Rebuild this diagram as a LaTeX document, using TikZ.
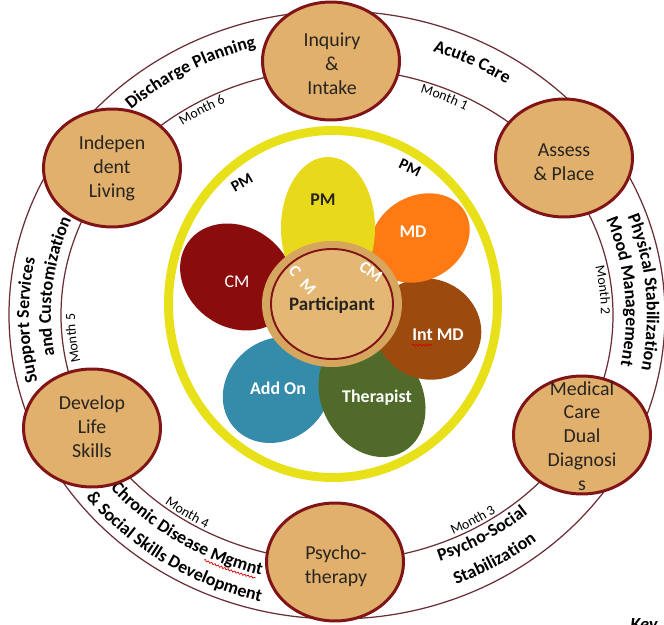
\documentclass[tikz,border=0pt]{standalone}
\usepackage{fontspec}
\setmainfont{Carlito}
\usetikzlibrary{shapes.geometric, decorations.text, decorations.pathmorphing}

\definecolor{stagefill}{RGB}{224,176,108}
\definecolor{stageline}{RGB}{128,20,22}
\definecolor{ringline}{RGB}{105,45,52}
\definecolor{halo}{RGB}{232,224,24}
\definecolor{pmyellow}{RGB}{232,218,26}
\definecolor{mdorange}{RGB}{255,122,18}
\definecolor{intbrown}{RGB}{156,74,14}
\definecolor{therapgreen}{RGB}{80,106,42}
\definecolor{addblue}{RGB}{52,140,170}
\definecolor{cmred}{RGB}{138,12,12}
\definecolor{partouter}{RGB}{214,166,94}
\definecolor{partinner}{RGB}{228,184,116}
\definecolor{darktext}{RGB}{40,36,32}

\newcommand\bandfont{\fontsize{10.2}{12}\selectfont\bfseries}
\newcommand\monthfont{\fontsize{7.9}{9}\selectfont}

\tikzset{
	stage/.style = {ellipse, draw = stageline, line width = 1.7pt, fill = stagefill, minimum width = 2.74cm, minimum height = 2.36cm},
	stagelabel/.style = {align = center, text = darktext, font = \fontsize{11.3}{13.6}\selectfont},
	ring/.style = {draw = ringline, line width = 0.7pt},
	band/.style = {decorate, decoration = {text along path, text align = center, text = {|\bandfont|#1}}},
	month/.style = {decorate, decoration = {text along path, text align = center, text = {|\monthfont|#1}}},
	petallabel/.style = {inner sep = 0pt, text = white, font = \fontsize{10.2}{12}\selectfont\bfseries},
	smallcm/.style = {petallabel, font = \fontsize{9.6}{11}\selectfont\bfseries},
	squiggle/.style = {draw = red!85!black, line width = 0.4pt, decorate, decoration = {snake, amplitude = 0.5pt, segment length = 2pt}}
}

\begin{document}
\begin{tikzpicture}[x = 0.02cm, y = 0.02cm]
	\useasboundingbox ( 0, 0 ) rectangle ( 664, -625 );
	\coordinate (hub) at ( 337, -315 );
	\draw [ring] (hub) ellipse [x radius = 328, y radius = 304];
	\draw [ring] (hub) ellipse [x radius = 276, y radius = 246];

	\path [band = {Discharge Planning}] ([shift = {( 154.5 : 305 and 278 )}]hub) arc [start angle = 154.5, end angle = 84.5, x radius = 305, y radius = 278];
	\path [band = {Acute Care}] ([shift = {( 93.5 : 305 and 278 )}]hub) arc [start angle = 93.5, end angle = 33.5, x radius = 305, y radius = 278];
	\path [band = {Physical Stabilization}] ([shift = {( 39.5 : 310 and 284 )}]hub) arc [start angle = 39.5, end angle = -30.5, x radius = 310, y radius = 284];
	\path [band = {Mood Management}] ([shift = {( 40 : 289 and 260 )}]hub) arc [start angle = 40, end angle = -30, x radius = 289, y radius = 260];
	\path [band = {Psycho-Social}] ([shift = {( -93.5 : 292 and 263 )}]hub) arc [start angle = -93.5, end angle = -23.5, x radius = 292, y radius = 263];
	\path [band = {Stabilization}] ([shift = {( -93.8 : 317 and 291 )}]hub) arc [start angle = -93.8, end angle = -23.8, x radius = 317, y radius = 291];
	\path [band = {Chronic Disease Mgmnt}] ([shift = {( 196.9 : 297 and 269 )}]hub) arc [start angle = 196.9, end angle = 276.9, x radius = 297, y radius = 269];
	\path [band = {{\&} Social Skills Development}] ([shift = {( 194.5 : 320 and 295 )}]hub) arc [start angle = 194.5, end angle = 278.5, x radius = 320, y radius = 295];
	\path [band = {Support Services}] ([shift = {( 216 : 308 and 281 )}]hub) arc [start angle = 216, end angle = 146, x radius = 308, y radius = 281];
	\path [band = {and Customization}] ([shift = {( 208.8 : 286 and 257 )}]hub) arc [start angle = 208.8, end angle = 138.8, x radius = 286, y radius = 257];
	\draw [squiggle] ([shift = {( 243.8 : 301 and 273 )}]hub) arc [start angle = 243.8, end angle = 254.3, x radius = 301, y radius = 273];

	\path [month = {Month 6}] ([shift = {( 140.7 : 264 and 234 )}]hub) arc [start angle = 140.7, end angle = 100.7, x radius = 264, y radius = 234];
	\path [month = {Month 1}] ([shift = {( 86 : 264 and 234 )}]hub) arc [start angle = 86, end angle = 46, x radius = 264, y radius = 234];
	\path [month = {Month 2}] ([shift = {( 25.9 : 264 and 234 )}]hub) arc [start angle = 25.9, end angle = -14.1, x radius = 264, y radius = 234];
	\path [month = {Month 3}] ([shift = {( -79.3 : 273 and 243 )}]hub) arc [start angle = -79.3, end angle = -39.3, x radius = 273, y radius = 243];
	\path [month = {Month 4}] ([shift = {( 215.8 : 273 and 243 )}]hub) arc [start angle = 215.8, end angle = 255.8, x radius = 273, y radius = 243];
	\path [month = {Month 5}] ([shift = {( 205.6 : 262 and 232 )}]hub) arc [start angle = 205.6, end angle = 165.6, x radius = 262, y radius = 232];

	\node [stage] (inq) at ( 331, -61 ) {};
	\node [stage] (ass) at ( 564, -158 ) {};
	\node [stage] (med) at ( 582, -435 ) {};
	\node [stage] (psy) at ( 335, -562 ) {};
	\node [stage] (dev) at ( 92, -428 ) {};
	\node [stage] (ind) at ( 112, -168 ) {};
	\node [stagelabel] (inqtext) at ( 332, -64 ) {Inquiry\\\&\\Intake};
	\node [stagelabel] (asstext) at ( 564, -162 ) {Assess\\\& Place};
	\node [stagelabel] (medtext) at ( 582, -436 ) {Medical\\Care\\Dual\\Diagnosi\\s};
	\node [stagelabel] (psytext) at ( 336, -566 ) {Psycho-\\therapy};
	\node [stagelabel] (devtext) at ( 92, -427 ) {Develop\\Life\\Skills};
	\node [stagelabel] (indtext) at ( 112, -168 ) {Indepen\\dent\\Living};

	\draw [halo, line width = 5.1pt] ( 333, -304 ) ellipse [x radius = 164.5, y radius = 173.5];

	\fill [addblue, rotate around = {40 : ( 277, -390 )}] ( 277, -390 ) ellipse [x radius = 57, y radius = 50];
	\fill [therapgreen, rotate around = {-60 : ( 372, -397 )}] ( 372, -397 ) ellipse [x radius = 63, y radius = 50];
	\fill [intbrown, rotate around = {-25 : ( 428, -329 )}] ( 428, -329 ) ellipse [x radius = 54, y radius = 50];
	\fill [mdorange, rotate around = {30 : ( 420, -238 )}] ( 420, -238 ) ellipse [x radius = 52, y radius = 42];
	\fill [cmred, rotate around = {-35 : ( 237, -277 )}] ( 237, -277 ) ellipse [x radius = 60, y radius = 50];
	\fill [pmyellow] ( 328, -228 ) ellipse [x radius = 47, y radius = 71];

	\fill [partouter] ( 332, -304 ) ellipse [x radius = 70, y radius = 63];
	\draw [stageline, line width = 1.1pt, fill = partinner] ( 332, -304 ) ellipse [x radius = 61, y radius = 55];
	\node [font = \fontsize{10.8}{12}\selectfont\bfseries, text = darktext] (part) at ( 332, -305 ) {Participant};
	\node [smallcm, rotate = -55] (cmleftc) at ( 295, -271 ) {C};
	\node [smallcm, rotate = -45] (cmleftm) at ( 308, -287 ) {M};
	\node [smallcm, rotate = -35] (cmright) at ( 371, -272 ) {CM};

	\node [petallabel, text = darktext] (pm) at ( 323, -200 ) {PM};
	\node [petallabel] (md) at ( 413, -232 ) {MD};
	\node [petallabel] (intmd) at ( 438, -335 ) {Int MD};
	\node [petallabel] (therap) at ( 377, -398 ) {Therapist};
	\node [petallabel] (addon) at ( 278, -388 ) {Add On};
	\node [petallabel, font = \fontsize{10.2}{12}\selectfont] (cm) at ( 237, -282 ) {CM};
	\draw [squiggle] ([yshift = -2.5pt]intmd.base west) -- ++( 20, 0 );

	\node [petallabel, text = black, font = \fontsize{9}{11}\selectfont\bfseries, rotate = 30] (pmleft) at ( 242, -183 ) {PM};
	\node [petallabel, text = black, font = \fontsize{9}{11}\selectfont\bfseries, rotate = -25] (pmright) at ( 410, -168 ) {PM};

	\node [anchor = north west, inner sep = 0pt, font = \fontsize{10.5}{12}\selectfont\bfseries\itshape] (key) at ( 630, -618 ) {Key};
\end{tikzpicture}
\end{document}
